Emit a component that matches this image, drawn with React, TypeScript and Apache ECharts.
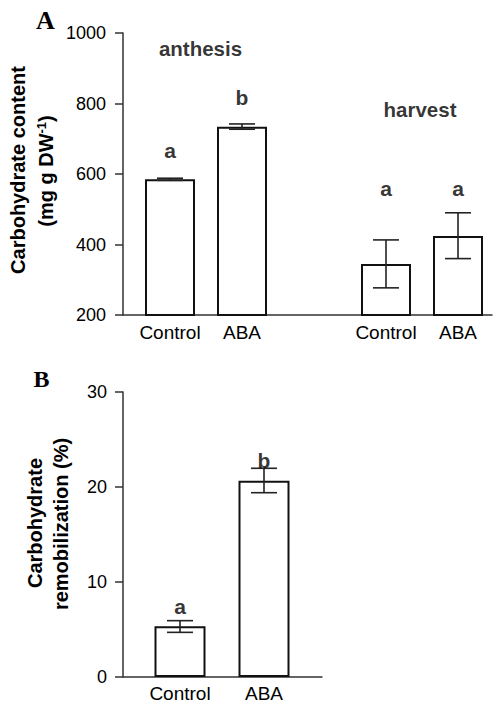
import React, { useEffect, useRef } from 'react';
import * as echarts from 'echarts';

// Panel A: carbohydrate content (mg g DW-1)
const contentCategories = ['Control', 'ABA', '', 'Control', 'ABA'];
const contentMeans = [585, 734, null, 345, 424];
const contentLow = [582, 727, null, 277, 360];
const contentHigh = [588, 742, null, 413, 490];
const contentLetters = ['a', 'b', '', 'a', 'a'];
const contentLetterY = [668, 816, null, 558, 558];
const stageNames = ['anthesis', 'harvest'];
const stageIndex = [0, 3];
const stageY = [955, 782];
const stageShift = [30.5, 34];
const contentMin = 200;
const contentMax = 1000;
const contentStep = 200;

// Panel B: carbohydrate remobilization (%)
const remobCategories = ['Control', 'ABA'];
const remobMeans = [5.33, 20.66];
const remobLow = [4.7, 19.4];
const remobHigh = [5.93, 21.97];
const remobLetters = ['a', 'b'];
const remobLetterY = [7.4, 22.74];
const remobMin = 0;
const remobMax = 30;
const remobStep = 10;

const SANS = '"Liberation Sans", Arial, Helvetica, sans-serif';
const SERIF = '"Liberation Serif", "Times New Roman", serif';
const AXIS_COLOR = '#333';

const errorRender = (params: any, api: any) => {
  const x = api.value(0);
  const lo = api.coord([x, api.value(1)]);
  const hi = api.coord([x, api.value(2)]);
  const half = 13;
  const style = { stroke: '#222', lineWidth: 1.6 };
  return {
    type: 'group',
    children: [
      { type: 'line', shape: { x1: hi[0], y1: hi[1], x2: lo[0], y2: lo[1] }, style },
      { type: 'line', shape: { x1: hi[0] - half, y1: hi[1], x2: hi[0] + half, y2: hi[1] }, style },
      { type: 'line', shape: { x1: lo[0] - half, y1: lo[1], x2: lo[0] + half, y2: lo[1] }, style },
    ],
  };
};

const catAxis = (gridIndex: number, data: string[], margin: number) => ({
  type: 'category',
  gridIndex,
  data,
  axisLine: { show: false },
  axisTick: { show: false },
  axisLabel: { interval: 0, fontSize: 19, color: '#000', fontFamily: SANS, margin },
  splitLine: { show: false },
});

const lineAxis = (gridIndex: number) => ({
  type: 'value',
  gridIndex,
  min: 0,
  max: 1,
  axisLine: { show: true, onZero: false, lineStyle: { color: AXIS_COLOR, width: 1.5 } },
  axisTick: { show: false },
  axisLabel: { show: false },
  splitLine: { show: false },
});

const valAxis = (gridIndex: number, min: number, max: number, interval: number, offset: number, margin: number) => ({
  type: 'value',
  gridIndex,
  min,
  max,
  interval,
  offset,
  axisLine: { show: true, lineStyle: { color: AXIS_COLOR, width: 1.5 } },
  axisTick: { show: true, inside: false, length: 8, lineStyle: { color: AXIS_COLOR, width: 1.5 } },
  axisLabel: { fontSize: 18, color: '#000', fontFamily: SANS, margin, formatter: (v: number) => String(v) },
  splitLine: { show: false },
});

const hiddenAxis = (gridIndex: number) => ({ type: 'value', gridIndex, min: 0, max: 1, show: false });

const titleText = (text: string, x: number, y: number, rich?: any) => ({
  type: 'text',
  x,
  y,
  rotation: Math.PI / 2,
  silent: true,
  style: {
    text,
    fontSize: 20,
    fontWeight: 'bold',
    fontFamily: SANS,
    fill: '#000',
    align: 'center',
    verticalAlign: 'middle',
    lineHeight: 22,
    rich,
  },
});

export default function App() {
  const ref = useRef<HTMLDivElement>(null);

  useEffect(() => {
    if (!ref.current) return;
    const chart = echarts.init(ref.current, undefined, { renderer: 'svg' });

    const letterLabel = { show: true, position: 'inside', fontSize: 21, fontWeight: 'bold', color: '#000', fontFamily: SANS };

    const option: any = {
      animation: false,
      backgroundColor: '#fff',
      grid: [
        { left: 134, top: 33, width: 360, height: 282 },
        { left: 123, top: 33, width: 369, height: 282 },
        { left: 138, top: 392, width: 168, height: 285 },
        { left: 123, top: 392, width: 199, height: 285 },
      ],
      xAxis: [
        catAxis(0, contentCategories, 8),
        lineAxis(1),
        catAxis(2, remobCategories, 7),
        lineAxis(3),
      ],
      yAxis: [
        valAxis(0, contentMin, contentMax, contentStep, 11, 17),
        hiddenAxis(1),
        valAxis(2, remobMin, remobMax, remobStep, 15, 16),
        hiddenAxis(3),
      ],
      series: [
        {
          type: 'bar',
          xAxisIndex: 0,
          yAxisIndex: 0,
          barWidth: 50,
          data: contentMeans.map((v) => (v == null ? '-' : v)),
          itemStyle: { color: '#fff', borderColor: '#111', borderWidth: 2 },
          silent: true,
          z: 2,
        },
        {
          type: 'custom',
          xAxisIndex: 0,
          yAxisIndex: 0,
          renderItem: errorRender,
          encode: { x: 0, y: [1, 2] },
          data: contentMeans
            .map((v, i) => (v == null ? null : [i, contentLow[i], contentHigh[i]]))
            .filter((d) => d != null),
          silent: true,
          z: 3,
        },
        {
          type: 'scatter',
          xAxisIndex: 0,
          yAxisIndex: 0,
          symbolSize: 1,
          itemStyle: { color: 'rgba(0,0,0,0)' },
          silent: true,
          z: 4,
          data: contentLetterY
            .map((y, i) => (y == null ? null : { value: [i, y], label: { ...letterLabel, formatter: contentLetters[i] } }))
            .filter((d) => d != null)
            .concat(
              stageNames.map((n, k) => ({
                value: [stageIndex[k], stageY[k]],
                label: { ...letterLabel, fontSize: 20.5, formatter: n, offset: [stageShift[k], 0] },
              })) as any
            ),
        },
        {
          type: 'bar',
          xAxisIndex: 2,
          yAxisIndex: 2,
          barWidth: 51,
          data: remobMeans,
          itemStyle: { color: '#fff', borderColor: '#111', borderWidth: 2 },
          silent: true,
          z: 2,
        },
        {
          type: 'custom',
          xAxisIndex: 2,
          yAxisIndex: 2,
          renderItem: errorRender,
          encode: { x: 0, y: [1, 2] },
          data: remobMeans.map((v, i) => [i, remobLow[i], remobHigh[i]]),
          silent: true,
          z: 3,
        },
        {
          type: 'scatter',
          xAxisIndex: 2,
          yAxisIndex: 2,
          symbolSize: 1,
          itemStyle: { color: 'rgba(0,0,0,0)' },
          silent: true,
          z: 4,
          data: remobLetterY.map((y, i) => ({ value: [i, y], label: { ...letterLabel, formatter: remobLetters[i] } })),
        },
      ],
      graphic: [
        {
          type: 'text',
          x: 45.5,
          y: 20.5,
          silent: true,
          style: { text: 'A', fontSize: 26, fontWeight: 'bold', fontFamily: SERIF, fill: '#000', align: 'center', verticalAlign: 'middle' },
        },
        {
          type: 'text',
          x: 41.5,
          y: 379,
          silent: true,
          style: { text: 'B', fontSize: 24, fontWeight: 'bold', fontFamily: SERIF, fill: '#000', align: 'center', verticalAlign: 'middle' },
        },
        titleText('Carbohydrate content', 18.3, 170),
        titleText('(mg g DW{sup|-1})', 46.3, 171, {
          sup: { fontSize: 13, fontWeight: 'bold', fontFamily: SANS, fill: '#000', verticalAlign: 'top', padding: [0, 0, 8, 0] },
        }),
        titleText('Carbohydrate', 34.8, 523),
        titleText('remobilization (%)', 61.3, 524),
      ],
    };

    chart.setOption(option);
    return () => chart.dispose();
  }, []);

  return (
    <div
      ref={ref}
      style={{ position: 'absolute', left: 0, top: 0, width: 501, height: 703, background: '#fff' }}
    />
  );
}
